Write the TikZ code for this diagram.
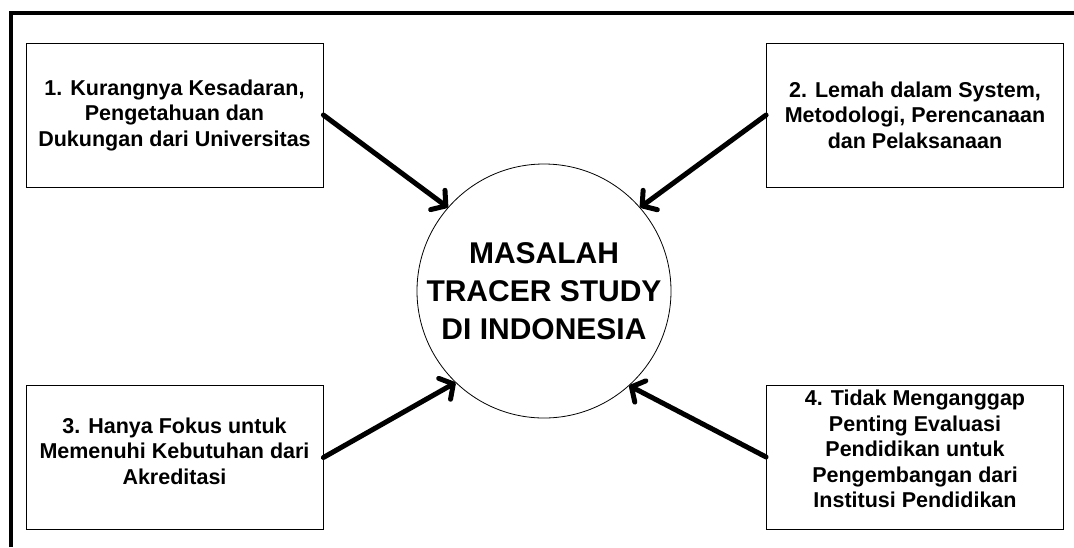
\documentclass[tikz,border=0pt]{standalone}
\usepackage{fontspec}
\setmainfont{Liberation Sans}
\usetikzlibrary{arrows.meta}

\begin{document}
\begin{tikzpicture}[x=1pt,y=-1pt,>={Straight Barb[length=10pt,width=24pt,round]},
    kotak/.style={draw,line width=0.8pt,minimum width=297pt,minimum height=144pt,inner sep=0pt,
      align=center,font=\bfseries\fontsize{21.5}{25.5}\selectfont},
    panah/.style={->,line width=5pt,line cap=round}]
        \useasboundingbox (0,0) rectangle (1074,547);

        % Bingkai luar
        \draw[line width=4pt] (11,547) -- (11,13) -- (1074,13);

        % Lingkaran tengah
        \node[circle,draw,line width=0.8pt,minimum size=254pt,inner sep=0pt,align=center,
          font=\bfseries\fontsize{30}{38}\selectfont] (masalah) at (544,291)
          {MASALAH\\TRACER STUDY\\DI INDONESIA};

        % Kotak masalah
        \node[kotak] (satu) at (174.5,115) {1. Kurangnya Kesadaran,\\Pengetahuan dan\\Dukungan dari Universitas};
        \node[kotak] (dua) at (915,115) {2. Lemah dalam System,\\Metodologi, Perencanaan\\dan Pelaksanaan};
        \node[kotak,text depth=13pt] (tiga) at (174.5,457.5) {3. Hanya Fokus untuk\\Memenuhi Kebutuhan dari\\Akreditasi};
        \node[kotak,text depth=16pt] (empat) at (915,457) {4. Tidak Menganggap\\Penting Evaluasi\\Pendidikan untuk\\Pengembangan dari\\Institusi Pendidikan};

        % Panah
        \draw[panah] (satu.east) -- (masalah.139);
        \draw[panah] (dua.west) -- (masalah.41);
        \draw[panah] (tiga.east) -- (masalah.226);
        \draw[panah] (empat.west) -- (masalah.312);
    \end{tikzpicture}
\end{document}
